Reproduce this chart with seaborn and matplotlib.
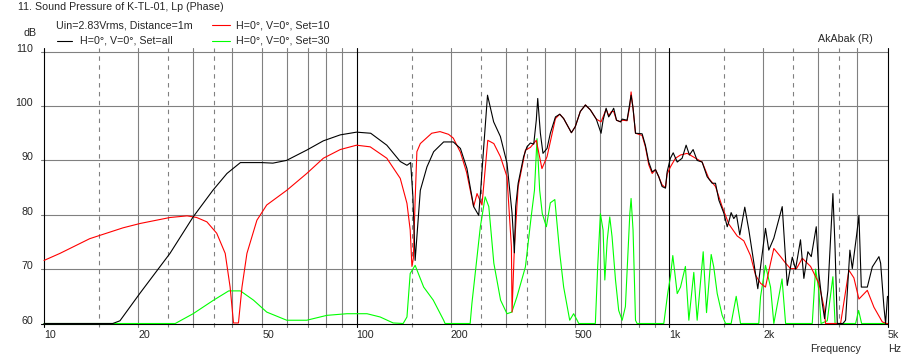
import numpy as np
import pandas as pd
import seaborn as sns
import matplotlib.pyplot as plt
from matplotlib.lines import Line2D
from matplotlib.ticker import NullLocator


# H=0°, V=0°, Set=all  (frequency Hz, level dB)
set_all = [(10, 60), (16.6, 60), (17.5, 60.5), (20.3, 65.6), (25.3, 72.9), (30, 79.6), (34.7, 84.5),
           (38.5, 87.6), (42.5, 89.6), (49.7, 89.6), (54, 89.5), (59.7, 90.0), (69.3, 91.9), (78.3, 93.6),
           (88.7, 94.7), (100, 95.2), (111, 95.0), (125, 92.8), (138, 89.8), (145, 89.1), (149, 89.6),
           (151.5, 83.3), (154, 71.6), (160, 84.5), (168, 88.8), (176.5, 91.6), (190, 93.4), (204, 93.4),
           (215, 92.2), (225.6, 88.5), (237, 81.5), (246, 79.9), (249.6, 84.5), (254.6, 91.6), (262.5, 102.0),
           (274.6, 97.1), (288.6, 94.4), (303, 89.5), (314.5, 80.3), (320, 73.0), (323, 81.5), (329, 85.8),
           (342.5, 90.7), (351, 92.5), (360, 93.2), (369, 93.0), (376, 97.4), (380, 101.4), (387.5, 95.0),
           (395, 91.3), (407, 92.2), (417, 95.0), (433, 98.0), (447, 98.5), (460, 97.7), (487, 95.1),
           (501, 96.2), (520, 99.0), (540, 100.2), (560, 99.3), (585, 97.6), (606, 95.0), (615, 97.4),
           (629, 99.6), (641, 98.0), (654, 98.8), (665, 99.6), (679, 97.4), (699, 97.1), (708, 97.6),
           (734, 97.4), (749, 100.5), (756, 102.0), (767, 99.6), (781, 95.0), (820, 94.9), (840, 92.8),
           (861, 89.7), (883, 87.9), (905, 88.3), (927, 87.0), (950, 85.2), (974, 84.9), (986, 87.9),
           (1010, 90.4), (1031, 91.4), (1062, 89.7), (1101, 90.4), (1134, 92.8), (1162, 91.0), (1194, 92.0),
           (1230, 90.0), (1276, 89.7), (1324, 87.0), (1374, 85.8), (1408, 85.8), (1443, 82.7), (1497, 80.3),
           (1535, 77.8), (1553, 78.7), (1580, 80.4), (1611, 79.3), (1643, 80.0), (1684, 76.3), (1747, 81.4),
           (1800, 77.2), (1867, 71.3), (1923, 66.4), (1962, 70.4), (2035, 77.5), (2085, 73.5), (2164, 75.7),
           (2302, 81.5), (2389, 67.0), (2479, 72.2), (2540, 70.0), (2634, 75.4), (2700, 68.3), (2781, 73.2),
           (2851, 72.3), (2958, 77.8), (3015, 69.2), (3092, 63.7), (3145, 60.9), (3223, 66.1), (3344, 83.9),
           (3394, 74.7), (3454, 60.0), (3600, 60.0), (3671, 60.6), (3790, 73.5), (3858, 70.1), (3983, 76.3),
           (4051, 79.9), (4123, 66.7), (4309, 66.7), (4470, 70.4), (4694, 72.3), (4753, 71.1), (4869, 63.1),
           (4930, 60.0), (5000, 65.0)]

# H=0°, V=0°, Set=10
set_10 = [(10, 71.6), (11.25, 72.9), (14, 75.6), (17.9, 77.6), (20.3, 78.4), (25.3, 79.5), (28.7, 79.8),
          (30.8, 79.5), (33.2, 78.7), (35.7, 76.6), (38, 72.9), (39.4, 66.7), (40.4, 60.1), (41.9, 60.1),
          (43, 66.7), (44.6, 72.9), (48, 79.0), (51.6, 81.8), (59.8, 84.5), (69.3, 87.6), (78.3, 90.4),
          (88.7, 92.0), (100, 92.8), (110.6, 92.5), (125, 90.4), (138, 86.7), (145, 82.1), (148.5, 77.2),
          (150.4, 70.5), (152, 72.0), (154, 82.7), (156, 91.6), (160, 93.1), (174, 95.0), (185, 95.3),
          (197, 94.8), (204, 94.1), (215, 91.5), (225, 87.8), (237, 81.5), (243, 83.9), (252, 81.8),
          (263, 93.7), (275, 93.1), (288.6, 90.7), (303, 87.0), (313, 74.1), (314.5, 62.1), (320, 74.1),
          (329, 85.2), (347, 91.9), (360, 92.4), (376, 93.7), (392, 88.5), (407, 90.7), (433, 97.7),
          (447, 98.5), (460, 97.7), (487, 95.1), (501, 96.2), (520, 99.0), (540, 100.2), (560, 99.3),
          (585, 97.6), (606, 97.1), (629, 99.4), (641, 98.2), (654, 99.0), (665, 99.0), (679, 97.4),
          (699, 97.1), (708, 97.4), (734, 97.3), (749, 100.0), (756, 102.6), (767, 99.6), (781, 95.0),
          (820, 94.6), (840, 92.5), (861, 89.2), (883, 87.6), (905, 88.3), (927, 87.0), (950, 85.5),
          (974, 85.0), (986, 87.5), (1010, 88.8), (1048, 90.4), (1088, 91.0), (1143, 91.3), (1200, 90.6),
          (1276, 89.7), (1340, 86.7), (1408, 85.2), (1479, 81.5), (1553, 78.3), (1652, 76.1), (1735, 75.2),
          (1822, 72.5), (1891, 68.9), (1962, 67.4), (2035, 66.7), (2112, 71.1), (2164, 73.8), (2274, 72.3),
          (2360, 71.1), (2447, 70.1), (2558, 70.1), (2669, 72.0), (2837, 70.5), (3015, 67.4), (3129, 63.1),
          (3168, 60.0), (3539, 60.0), (3762, 69.8), (3903, 68.4), (4051, 64.5), (4309, 66.1), (4524, 63.0),
          (4811, 60.3), (4960, 60.0), (5000, 60.0)]

# H=0°, V=0°, Set=30
set_30 = [(10, 60), (26.3, 60), (30, 61.8), (34.9, 64.3), (39, 66.0), (42.5, 66.0), (46.8, 64.3),
          (51.6, 62.1), (59.8, 60.6), (69.3, 60.6), (80.4, 61.5), (93.2, 61.8), (108, 61.8), (119, 61.2),
          (131, 60.1), (141, 60), (145, 61.2), (148.5, 69.2), (154, 70.7), (164, 66.7), (176, 64.3),
          (190, 60.6), (192, 60), (231, 60), (234, 63.7), (249, 77.8), (258, 83.3), (265, 81.5), (275, 71.1),
          (289, 64.3), (303, 61.8), (314, 62.1), (326, 64.9), (347, 70.4), (362, 79.6), (371, 84.5),
          (378, 94.0), (385.5, 84.5), (393, 80.2), (405, 77.8), (417, 82.2), (431, 82.8), (447, 72.9),
          (460, 66.7), (481, 60.6), (495, 61.8), (508, 60.6), (514, 60), (581, 60), (591, 70.4), (603, 80.2),
          (615, 77.2), (623, 68.0), (634, 75.3), (646, 79.6), (657, 76.0), (674, 68.0), (690, 62.4),
          (708, 60.6), (725, 63.1), (749, 80.2), (756, 83.0), (767, 77.2), (781, 60.6), (790, 60), (962, 60),
          (990, 65.5), (1010, 68.6), (1028, 72.5), (1062, 65.5), (1088, 66.7), (1128, 70.5), (1157, 60.6),
          (1200, 69.4), (1230, 60.6), (1286, 73.2), (1318, 62.0), (1364, 72.7), (1390, 70.4), (1426, 65.5),
          (1479, 61.5), (1516, 60), (1580, 60), (1640, 65.0), (1693, 60), (1937, 60), (1962, 64.9),
          (2035, 70.7), (2112, 66.7), (2164, 60), (2299, 68.2), (2360, 60), (2872, 60), (2943, 70.0),
          (3015, 66.1), (3064, 60), (3208, 60.5), (3344, 68.6), (3398, 60), (3953, 60), (4042, 62.4),
          (4132, 60), (5000, 60)]

x_ticks = [10, 20, 50, 100, 200, 500, 1000, 2000, 5000]
x_tick_labels = ["10", "20", "50", "100", "200", "500", "1k", "2k", "5k"]
y_ticks = [60, 70, 80, 90, 100, 110]

grid_black = [10, 100, 1000, 5000]
grid_solid = [20, 30, 40, 50, 60, 70, 80, 90, 200, 300, 400, 500, 600, 700, 800, 900, 2000, 3000, 4000]
grid_dashed = [15, 25, 35, 150, 250, 350, 1500, 2500, 3500]

sns.set_style("white")
plt.rcParams['font.family'] = ['Liberation Sans', 'DejaVu Sans']
plt.rcParams['font.size'] = 7.7

GRAY = "#808080"

fig = plt.figure(figsize=(9.14, 3.61), dpi=100)
ax = fig.add_axes([44 / 914, 1 - 323.5 / 361, 843.5 / 914, 271.8 / 361])

# grid, drawn a little past the frame like the original
for f in grid_solid:
    ax.axvline(f, ymin=-0.012, ymax=1.012, color=GRAY, lw=0.8, clip_on=False, zorder=1)
for f in grid_dashed:
    ax.axvline(f, ymin=-0.012, ymax=1.012, color=GRAY, lw=0.8, ls=(0, (4, 4)), clip_on=False, zorder=1)
for f in grid_black:
    ax.axvline(f, ymin=-0.012, ymax=1.012, color="black", lw=0.8, clip_on=False, zorder=1.5)
for y in y_ticks[1:]:
    ax.axhline(y, xmin=-0.004, xmax=1, color=GRAY, lw=0.8, clip_on=False, zorder=1)
ax.axhline(60, xmin=-0.004, xmax=1, color="black", lw=0.8, clip_on=False, zorder=1.5)

curves = [(set_30, "#00ff00"), (set_10, "#ff0000"), (set_all, "black")]
for i, (pts, col) in enumerate(curves):
    df = pd.DataFrame(pts, columns=["freq", "spl"])
    sns.lineplot(data=df, x="freq", y="spl", ax=ax, color=col, lw=0.8, estimator=None,
                 sort=False, clip_on=False, zorder=3 + i)

ax.set_xscale("log")
ax.set_xlim(10, 5000)
ax.set_ylim(60, 110)
for s in ax.spines.values():
    s.set_visible(False)

ax.set_xticks(x_ticks, x_tick_labels)
ax.xaxis.set_minor_locator(NullLocator())
ax.tick_params(axis="x", length=0, pad=5)
plt.setp(ax.get_xticklabels(), ha="left")
ax.set_yticks(y_ticks, [str(v) for v in y_ticks])
ax.tick_params(axis="y", length=0, pad=8)
plt.setp(ax.get_yticklabels(), va="baseline")
ax.set_xlabel("")
ax.set_ylabel("")

# header texts and legend
fig.text(18 / 914, 1 - 7 / 361, "11. Sound Pressure of K-TL-01, Lp (Phase)", va="center")
fig.text(36 / 914, 1 - 32.5 / 361, "dB", ha="right", va="center")
fig.text(56 / 914, 1 - 25 / 361, "Uin=2.83Vrms, Distance=1m", va="center")
fig.text(80 / 914, 1 - 40.5 / 361, "H=0°, V=0°, Set=all", va="center")
fig.text(236 / 914, 1 - 25 / 361, "H=0°, V=0°, Set=10", va="center")
fig.text(236 / 914, 1 - 40.5 / 361, "H=0°, V=0°, Set=30", va="center")
for x0, x1, y, col in [(57, 72, 40.5, "black"), (212, 230, 24.5, "#ff0000"), (212, 230, 40.5, "#00ff00")]:
    fig.add_artist(Line2D([x0 / 914, x1 / 914], [1 - y / 361] * 2, transform=fig.transFigure, color=col, lw=0.8))
fig.text(873 / 914, 1 - 39 / 361, "AkAbak (R)", ha="right", va="center")
fig.text(836 / 914, 1 - 349 / 361, "Frequency", ha="center", va="center")
fig.text(888 / 914, 1 - 349 / 361, "Hz", ha="left", va="center")

fig.savefig("out.png", dpi=100, facecolor="white")
